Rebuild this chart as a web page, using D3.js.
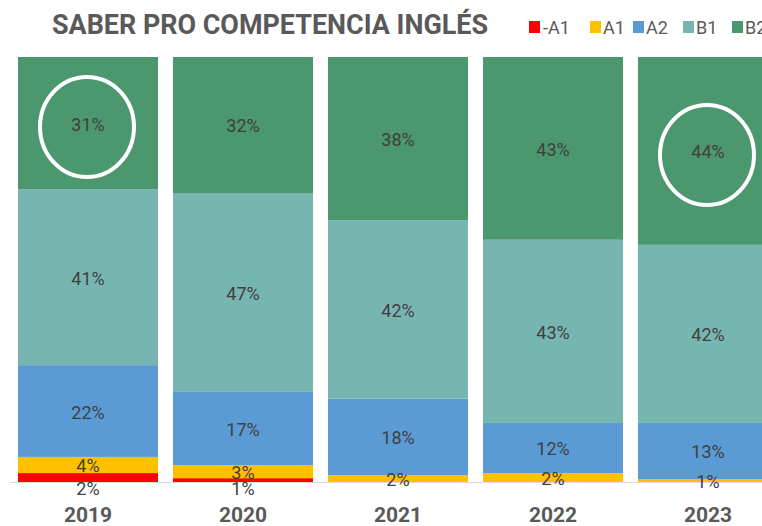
<!DOCTYPE html>
<html>
<head>
<meta charset="utf-8">
<script src="https://cdn.jsdelivr.net/npm/d3@7"></script>
<style>
  body { margin: 0; background: #fff; }
  svg { display: block; font-family: Roboto, "Noto Sans", sans-serif; }
</style>
</head>
<body>
<svg id="chart" width="762" height="526"></svg>
<script>
// data (percent of students per level)
const years = ['2019', '2020', '2021', '2022', '2023'];
const levels = ['-A1', 'A1', 'A2', 'B1', 'B2'];
const menosA1 = [2.1, 0.9, 0, 0, 0];
const a1 = [3.8, 3.1, 1.6, 2.1, 0.7];
const a2 = [21.6, 17.2, 18.0, 11.8, 13.2];
const b1 = [41.4, 46.8, 42.0, 43.1, 41.9];
const b2 = [31.1, 32.0, 38.4, 43.0, 44.2];
const colors = ['#ff0000', '#ffc000', '#5b9bd5', '#77b6b0', '#4b976e'];
// segments marked with a white ring
const highlighted = [['2019', 'B2'], ['2023', 'B2']];

const svg = d3.select('#chart');

const rows = years.map(function(y, i) {
   return { year: y, '-A1': menosA1[i], 'A1': a1[i], 'A2': a2[i], 'B1': b1[i], 'B2': b2[i] };
});
const series = d3.stack().keys(levels)(rows);

const x = d3.scaleBand()
   .domain(years)
   .range([18, 778])
   .paddingInner(15 / 155)
   .paddingOuter(0);
const y = d3.scaleLinear()
   .domain([0, 100])
   .range([482, 57]);
const color = d3.scaleOrdinal().domain(levels).range(colors);

// bars
svg.append('g').selectAll('g')
   .data(series)
   .enter()
   .append('g')
      .attr('fill', d => color(d.key))
   .selectAll('rect')
   .data(d => d)
   .enter()
   .append('rect')
      .attr('x', d => x(d.data.year))
      .attr('width', x.bandwidth())
      .attr('y', d => y(d[1]))
      .attr('height', d => y(d[0]) - y(d[1]));

// baseline
svg.append('line')
   .attr('x1', 10)
   .attr('x2', 762)
   .attr('y1', y(0) + 0.5)
   .attr('y2', y(0) + 0.5)
   .attr('stroke', '#d9d9d9')
   .attr('stroke-width', 1);

// value labels
series.forEach(function(s) {
   svg.append('g').selectAll('text')
      .data(s.filter(d => d[1] - d[0] > 0))
      .enter()
      .append('text')
         .text(d => Math.round(d[1] - d[0]) + '%')
         .attr('x', d => x(d.data.year) + x.bandwidth() / 2)
         .attr('y', function(d) {
            if (s.key == '-A1') return y(0) + 7;
            return (y(d[0]) + y(d[1])) / 2 + 1;
         })
         .attr('dy', '0.36em')
         .style('text-anchor', 'middle')
         .style('font-size', '18px')
         .style('fill', '#404040');
});

// rings
svg.append('g').selectAll('ellipse')
   .data(highlighted)
   .enter()
   .append('ellipse')
      .attr('cx', d => x(d[0]) + x.bandwidth() / 2 - 1)
      .attr('cy', function(d) {
         const seg = series[levels.indexOf(d[1])][years.indexOf(d[0])];
         return (y(seg[0]) + y(seg[1])) / 2 + 4;
      })
      .attr('rx', 47)
      .attr('ry', 50)
      .attr('fill', 'none')
      .attr('stroke', '#fff')
      .attr('stroke-width', 4);

// year axis
svg.append('g').selectAll('text')
   .data(years)
   .enter()
   .append('text')
      .text(d => d)
      .attr('x', d => x(d) + x.bandwidth() / 2)
      .attr('y', 522)
      .style('text-anchor', 'middle')
      .style('font-size', '21px')
      .style('font-weight', 'bold')
      .style('fill', '#595959');

// title
svg.append('text')
   .text('SABER PRO COMPETENCIA INGLÉS')
   .attr('x', 52)
   .attr('y', 34)
   .attr('textLength', 436)
   .attr('lengthAdjust', 'spacingAndGlyphs')
   .style('font-size', '28px')
   .style('font-weight', 'bold')
   .style('fill', '#595959');

// legend
const legendX = [529, 590, 633, 683, 732];
const legend = svg.append('g').selectAll('g')
   .data(levels)
   .enter()
   .append('g')
      .attr('transform', (d, i) => `translate(${legendX[i]}, 21)`);
legend.append('rect')
   .attr('width', 11)
   .attr('height', 12)
   .attr('fill', d => color(d));
legend.append('text')
   .text(d => d)
   .attr('x', d => d == '-A1' ? 14 : 13)
   .attr('y', 12.5)
   .style('font-size', '18px')
   .style('fill', '#595959');
</script>
</body>
</html>
